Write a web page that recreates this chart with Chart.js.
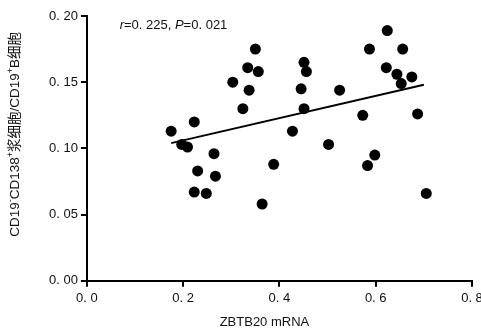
<!DOCTYPE html>
<html><head><meta charset="utf-8">
<script src="https://cdn.jsdelivr.net/npm/chart.js@4"></script>
<style>html,body{margin:0;padding:0;background:#fff}#wrap{width:481px;height:331px}</style>
</head><body><div id="wrap"><canvas id="c" width="481" height="331"></canvas></div>
<script>
// ZBTB20 mRNA (x) vs CD19-CD138+ plasma cells / CD19+ B cells (y)
const xValues = [0.175,0.197,0.209,0.223,0.230,0.223,0.248,0.264,0.267,0.303,0.324,0.334,0.337,0.350,0.356,0.364,0.388,0.427,0.445,0.451,0.456,0.451,0.502,0.525,0.573,0.583,0.598,0.587,0.622,0.624,0.644,0.653,0.656,0.675,0.687,0.705];
const yValues = [0.113,0.103,0.101,0.120,0.083,0.067,0.066,0.096,0.079,0.150,0.130,0.161,0.144,0.175,0.158,0.058,0.088,0.113,0.145,0.165,0.158,0.130,0.103,0.144,0.125,0.087,0.095,0.175,0.161,0.189,0.156,0.149,0.175,0.154,0.126,0.066];
const fitX = [0.175, 0.700];
const fitY = [0.104, 0.148];
const xTickLabels = ["0. 0","0. 2","0. 4","0. 6","0. 8"];
const yTickLabels = ["0. 00","0. 05","0. 10","0. 15","0. 20"];
const xTitle = "ZBTB20 mRNA";
const yTitleParts = [["CD19",0],["-",1],["CD138",0],["+",1],["浆细胞/CD19",0],["+",1],["B细胞",0]];
const statText = [["r",1],["=0. 225, ",0],["P",1],["=0. 021",0]];
const statAt = [0.068, 0.193];

const FONT = '"Liberation Sans", "Noto Sans CJK SC", sans-serif';

const labelsPlugin = {
  id: 'labels',
  afterDraw(chart) {
    const ctx = chart.ctx, ca = chart.chartArea;
    const xs = chart.scales.x, ys = chart.scales.y;
    ctx.save();
    ctx.fillStyle = '#111';
    ctx.translate(15, (ca.top + ca.bottom) / 2 - 14);
    ctx.rotate(-Math.PI / 2);
    const big = '13.5px ', small = '9px ';
    let total = 0;
    for (const [t, s] of yTitleParts) { ctx.font = (s ? small : big) + FONT; total += ctx.measureText(t).width; }
    let x = -total / 2;
    ctx.textBaseline = 'middle';
    for (const [t, s] of yTitleParts) {
      ctx.font = (s ? small : big) + FONT;
      ctx.fillText(t, x, s ? -4 : 0);
      x += ctx.measureText(t).width;
    }
    ctx.restore();
    // x title, slightly left of centre as in the original
    ctx.save();
    ctx.fillStyle = '#111';
    ctx.font = '13px ' + FONT;
    ctx.textAlign = 'center';
    ctx.textBaseline = 'middle';
    ctx.fillText(xTitle, (ca.left + ca.right) / 2 - 15, xs.bottom - 9);
    ctx.restore();
    // stats annotation
    ctx.save();
    ctx.fillStyle = '#111';
    ctx.textBaseline = 'middle';
    let px = xs.getPixelForValue(statAt[0]);
    const py = ys.getPixelForValue(statAt[1]);
    for (const [t, it] of statText) {
      ctx.font = (it ? 'italic 13px ' : '13px ') + FONT;
      ctx.fillText(t, px, py);
      px += ctx.measureText(t).width;
    }
    ctx.restore();
  }
};

new Chart(document.getElementById('c'), {
  data: {
    datasets: [
      { type: 'scatter', data: xValues.map((v, i) => ({x: v, y: yValues[i]})),
        backgroundColor: '#000', borderWidth: 0, pointRadius: 5.5, pointHoverRadius: 5.5 },
      { type: 'line', data: fitX.map((v, i) => ({x: v, y: fitY[i]})),
        borderColor: '#000', borderWidth: 2, pointRadius: 0, fill: false, tension: 0 }
    ]
  },
  options: {
    responsive: false, animation: false,
    layout: { padding: { left: 46, right: 0, top: 16, bottom: 0 } },
    plugins: { legend: { display: false }, tooltip: { enabled: false } },
    scales: {
      x: { type: 'linear', min: 0, max: 0.8,
        afterFit: (s) => { s.paddingRight = 9; },
        ticks: { stepSize: 0.2, color: '#111', font: { family: FONT, size: 13 }, padding: 4,
          callback: (v, i) => xTickLabels[i] },
        grid: { drawOnChartArea: false, drawTicks: true, tickLength: 6, color: '#000', lineWidth: 2 },
        border: { display: true, color: '#000', width: 2 },
        title: { display: true, text: xTitle, color: 'rgba(0,0,0,0)', font: { family: FONT, size: 13 }, padding: { top: 3, bottom: 2 } }
      },
      y: { type: 'linear', min: 0, max: 0.2,
        ticks: { stepSize: 0.05, color: '#111', font: { family: FONT, size: 13 }, padding: 3,
          callback: (v, i) => yTickLabels[i] },
        grid: { drawOnChartArea: false, drawTicks: true, tickLength: 6, color: '#000', lineWidth: 2 },
        border: { display: true, color: '#000', width: 2 }
      }
    }
  },
  plugins: [labelsPlugin]
});
</script></body></html>
